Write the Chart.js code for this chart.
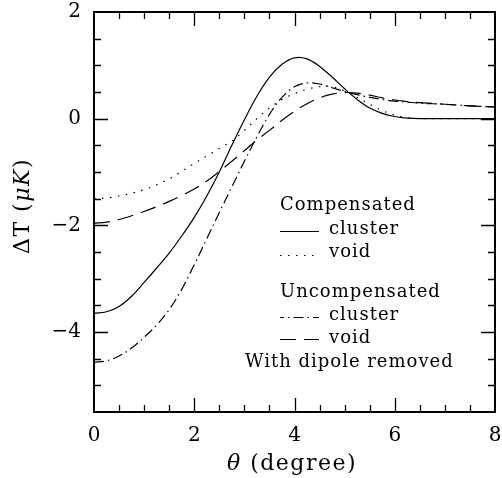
<!DOCTYPE html>
<html>
<head>
<meta charset="utf-8">
<script src="https://cdn.jsdelivr.net/npm/chart.js@4"></script>
<style>
  html, body { margin: 0; padding: 0; background: #fff; }
  #chart { display: block; }
</style>
</head>
<body>
<canvas id="chart" width="502" height="478"></canvas>
<script>
// theta (degree) sample points
const theta = [0, 0.25, 0.5, 0.75, 1, 1.25, 1.5, 1.75, 2, 2.25, 2.5, 2.75, 3, 3.25, 3.5, 3.75, 4, 4.25, 4.5, 4.75, 5, 5.25, 5.5, 5.75, 6, 6.25, 6.5, 7, 7.5, 8];

// Delta T (micro K)
const compCluster = [-3.65, -3.62, -3.52, -3.33, -3.07, -2.8, -2.52, -2.2, -1.85, -1.45, -1.0, -0.5, -0.02, 0.42, 0.78, 1.02, 1.14, 1.12, 0.98, 0.78, 0.56, 0.36, 0.2, 0.1, 0.04, 0.01, 0.0, 0.0, 0.0, 0.0];
const compVoid = [-1.5, -1.49, -1.45, -1.4, -1.33, -1.24, -1.13, -0.99, -0.84, -0.7, -0.56, -0.42, -0.22, 0.0, 0.2, 0.36, 0.47, 0.55, 0.6, 0.6, 0.52, 0.4, 0.27, 0.15, 0.07, 0.02, 0.0, 0.0, 0.0, 0.0];
const uncompCluster = [-4.57, -4.54, -4.45, -4.3, -4.1, -3.87, -3.58, -3.2, -2.74, -2.25, -1.76, -1.28, -0.8, -0.34, 0.08, 0.4, 0.6, 0.67, 0.65, 0.58, 0.51, 0.45, 0.4, 0.36, 0.33, 0.31, 0.29, 0.27, 0.24, 0.22];
const uncompVoid = [-1.96, -1.94, -1.89, -1.82, -1.74, -1.65, -1.55, -1.44, -1.32, -1.17, -0.99, -0.8, -0.6, -0.4, -0.22, -0.03, 0.14, 0.28, 0.39, 0.46, 0.49, 0.48, 0.44, 0.39, 0.35, 0.32, 0.3, 0.27, 0.24, 0.22];

const xTickLabels = [0, 2, 4, 6, 8];
const yTickLabels = [-4, -2, 0, 2];

const FONT = "'DejaVu Serif', serif";

function pts(ys) {
    return theta.map((t, i) => ({ x: t, y: ys[i] }));
}

function lineSet(label, ys, dash) {
    return {
        label: label,
        data: pts(ys),
        borderColor: "#000",
        borderWidth: 1.2,
        borderDash: dash,
        pointRadius: 0,
        fill: false,
        tension: 0.35
    };
}

const DASH_DOT = [10, 4, 1.5, 4];
const DOTTED = [1.5, 6.5];
const DASHED = [16, 8];

// draws text piece by piece so parts can be italic
function drawRich(ctx, parts, x, y, size, align) {
    let total = 0;
    parts.forEach(p => { ctx.font = p[1] + size + "px " + FONT; total += ctx.measureText(p[0]).width; });
    let cx = align === "center" ? x - total / 2 : x;
    parts.forEach(p => {
        ctx.font = p[1] + size + "px " + FONT;
        ctx.fillText(p[0], cx, y);
        cx += ctx.measureText(p[0]).width;
    });
}

// frame, inward ticks on all sides, tick labels and titles
const framePlugin = {
    id: "frame",
    afterDraw(chart) {
        const ctx = chart.ctx;
        const a = chart.chartArea;
        const xs = chart.scales.x;
        const ys = chart.scales.y;
        ctx.save();
        ctx.strokeStyle = "#000";
        ctx.lineWidth = 2;
        ctx.strokeRect(a.left, a.top, a.right - a.left, a.bottom - a.top);

        ctx.lineWidth = 1.3;
        ctx.beginPath();
        for (let v = 0.5; v < 8; v += 0.5) {
            const len = (v % 2 === 0) ? 14 : 7;
            const px = Math.round(xs.getPixelForValue(v)) + 0.5;
            ctx.moveTo(px, a.bottom); ctx.lineTo(px, a.bottom - len);
            ctx.moveTo(px, a.top); ctx.lineTo(px, a.top + len);
        }
        for (let v = -5; v < 2; v += 0.5) {
            const len = (v % 2 === 0) ? 14 : 7;
            const py = Math.round(ys.getPixelForValue(v)) + 0.5;
            ctx.moveTo(a.left, py); ctx.lineTo(a.left + len, py);
            ctx.moveTo(a.right, py); ctx.lineTo(a.right - len, py);
        }
        ctx.stroke();

        ctx.fillStyle = "#000";
        ctx.font = "20px " + FONT;
        ctx.textAlign = "center";
        ctx.textBaseline = "middle";
        xTickLabels.forEach(v => {
            ctx.fillText(String(v), xs.getPixelForValue(v), 436);
        });
        ctx.textAlign = "right";
        yTickLabels.forEach(v => {
            const s = v < 0 ? "\u2212" + Math.abs(v) : String(v);
            ctx.fillText(s, 81, ys.getPixelForValue(v));
        });

        // axis titles
        ctx.textBaseline = "alphabetic";
        ctx.textAlign = "left";
        ctx.letterSpacing = "1.5px";
        drawRich(ctx, [["\u03b8", "italic "], [" (degree)", ""]], 292, 470, 22, "center");

        ctx.save();
        ctx.translate(29, 206);
        ctx.rotate(-Math.PI / 2);
        drawRich(ctx, [["\u0394T (", ""], ["\u03bcK", "italic "], [")", ""]], 0, 0, 22, "center");
        ctx.restore();

        // legend text
        ctx.font = "18px " + FONT;
        ctx.letterSpacing = "1px";
        ctx.fillText("Compensated", 280, 210);
        ctx.fillText("cluster", 329, 234);
        ctx.fillText("void", 329, 257);
        ctx.fillText("Uncompensated", 280, 297);
        ctx.fillText("cluster", 329, 320);
        ctx.fillText("void", 329, 343);
        ctx.fillText("With dipole removed", 245, 367);
        ctx.letterSpacing = "0px";

        // legend samples
        const samples = [[[], 231.5, 0], [DOTTED, 255.5, 0], [DASH_DOT, 317.5, 6], [DASHED, 339.5, 0]];
        ctx.lineWidth = 1.2;
        samples.forEach(s => {
            ctx.setLineDash(s[0]);
            ctx.lineDashOffset = s[2];
            ctx.beginPath();
            ctx.moveTo(280, s[1]);
            ctx.lineTo(319, s[1]);
            ctx.stroke();
        });
        ctx.setLineDash([]);
        ctx.restore();
    }
};

new Chart(document.getElementById("chart"), {
    type: "line",
    data: {
        datasets: [
            lineSet("Compensated cluster", compCluster, []),
            lineSet("Compensated void", compVoid, DOTTED),
            lineSet("Uncompensated cluster", uncompCluster, DASH_DOT),
            lineSet("Uncompensated void", uncompVoid, DASHED)
        ]
    },
    options: {
        responsive: false,
        animation: false,
        layout: { padding: { left: 94, top: 12, right: 7, bottom: 66 } },
        plugins: { legend: { display: false }, tooltip: { enabled: false } },
        scales: {
            x: { type: "linear", min: 0, max: 8, display: false },
            y: { type: "linear", min: -5.5, max: 2, display: false }
        }
    },
    plugins: [framePlugin]
});
</script>
</body>
</html>
